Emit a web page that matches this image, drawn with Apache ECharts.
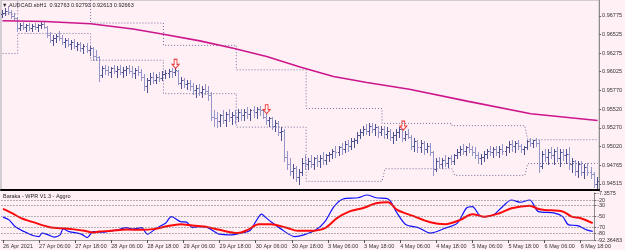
<!DOCTYPE html>
<html>
<head>
<meta charset="utf-8">
<script src="https://cdn.jsdelivr.net/npm/echarts@6/dist/echarts.min.js"></script>
<style>
html, body { margin: 0; padding: 0; background: #fff0f5; }
#chart { width: 625px; height: 250px; }
</style>
</head>
<body>
<div id="chart"></div>
<script>
// AUDCAD H1 bars
var open = [
  .9680,.9682,.9684,.9683,.9678,.9675,.9661,.9665,.9663,.9665, .9661,.9664,.9663,.9665,.9667,.9663,.9652,.9645,.9648,.9651,
  .9648,.9642,.9645,.9640,.9642,.9637,.9640,.9634,.9637,.9632, .9634,.9623,.9622,.9598,.9607,.9605,.9602,.9607,.9603,.9606,
  .9602,.9605,.9607,.9603,.9601,.9605,.9602,.9596,.9583,.9591, .9595,.9592,.9596,.9594,.9599,.9601,.9603,.9602,.9603,.9588,
  .9591,.9586,.9588,.9583,.9578,.9580,.9575,.9579,.9576,.9571, .9542,.9540,.9536,.9544,.9538,.9546,.9541,.9544,.9541,.9548,
  .9544,.9549,.9546,.9551,.9548,.9552,.9551,.9542,.9537,.9540, .9530,.9534,.9521,.9523,.9488,.9478,.9469,.9473,.9461,.9468,
  .9480,.9478,.9483,.9479,.9486,.9482,.9487,.9484,.9490,.9492, .9496,.9494,.9501,.9498,.9505,.9502,.9509,.9511,.9518,.9522,
  .9526,.9523,.9529,.9525,.9528,.9522,.9526,.9519,.9523,.9515, .9518,.9522,.9525,.9513,.9519,.9515,.9503,.9509,.9501,.9506,
  .9498,.9502,.9495,.9472,.9482,.9479,.9484,.9480,.9486,.9483, .9490,.9495,.9499,.9496,.9501,.9498,.9495,.9491,.9486,.9488,
  .9492,.9496,.9494,.9498,.9495,.9499,.9496,.9501,.9505,.9502, .9506,.9503,.9498,.9501,.9509,.9506,.9510,.9507,.9476,.9492,
  .9488,.9495,.9490,.9496,.9487,.9494,.9490,.9492,.9478,.9482, .9469,.9479,.9467,.9475,.9468,.9465,.9452
];
var high = [
  .9686,.9688,.9691,.9686,.9682,.9676,.9668,.9669,.9667,.9668, .9667,.9668,.9667,.9669,.9671,.9664,.9656,.9652,.9653,.9657,
  .9652,.9648,.9648,.9645,.9646,.9642,.9642,.9640,.9641,.9637, .9636,.9632,.9623,.9610,.9611,.9610,.9609,.9611,.9610,.9611,
  .9609,.9610,.9611,.9610,.9607,.9610,.9606,.9599,.9594,.9601, .9602,.9599,.9602,.9603,.9605,.9606,.9607,.9607,.9605,.9595,
  .9594,.9591,.9591,.9588,.9584,.9586,.9583,.9586,.9583,.9575, .9551,.9548,.9546,.9551,.9549,.9552,.9549,.9551,.9552,.9553,
  .9552,.9555,.9553,.9556,.9555,.9556,.9553,.9545,.9542,.9542, .9538,.9536,.9528,.9525,.9496,.9486,.9479,.9476,.9472,.9486,
  .9490,.9487,.9490,.9488,.9491,.9490,.9494,.9492,.9495,.9499, .9502,.9503,.9506,.9509,.9510,.9513,.9514,.9521,.9526,.9530,
  .9532,.9533,.9533,.9532,.9530,.9529,.9530,.9528,.9526,.9522, .9526,.9528,.9526,.9523,.9525,.9517,.9513,.9511,.9510,.9509,
  .9507,.9506,.9496,.9486,.9488,.9487,.9490,.9488,.9491,.9492, .9498,.9502,.9505,.9503,.9506,.9502,.9501,.9495,.9492,.9496,
  .9499,.9502,.9501,.9503,.9502,.9505,.9503,.9509,.9510,.9509, .9511,.9505,.9503,.9511,.9513,.9511,.9514,.9511,.9496,.9499,
  .9498,.9501,.9499,.9501,.9498,.9499,.9498,.9501,.9486,.9484, .9483,.9482,.9479,.9480,.9475,.9467,.9461
];
var low = [
  .9676,.9679,.9680,.9675,.9672,.9657,.9659,.9660,.9657,.9659, .9657,.9660,.9657,.9661,.9661,.9649,.9642,.9638,.9642,.9645,
  .9640,.9636,.9637,.9633,.9634,.9632,.9630,.9628,.9629,.9625, .9618,.9618,.9590,.9595,.9599,.9598,.9596,.9601,.9596,.9599,
  .9595,.9598,.9601,.9596,.9594,.9598,.9592,.9578,.9575,.9586, .9588,.9587,.9590,.9591,.9594,.9595,.9596,.9598,.9586,.9580,
  .9582,.9579,.9578,.9572,.9569,.9571,.9568,.9572,.9565,.9537, .9530,.9528,.9529,.9534,.9530,.9536,.9532,.9534,.9536,.9538,
  .9537,.9540,.9538,.9541,.9540,.9544,.9540,.9532,.9529,.9526, .9523,.9517,.9510,.9483,.9472,.9463,.9459,.9456,.9452,.9464,
  .9472,.9471,.9475,.9472,.9476,.9475,.9479,.9478,.9482,.9486, .9488,.9490,.9492,.9494,.9496,.9499,.9501,.9507,.9514,.9517,
  .9519,.9518,.9521,.9518,.9515,.9517,.9514,.9513,.9510,.9507, .9511,.9515,.9509,.9510,.9513,.9498,.9496,.9495,.9494,.9492,
  .9494,.9491,.9463,.9469,.9475,.9473,.9476,.9475,.9478,.9479, .9486,.9490,.9492,.9491,.9494,.9490,.9487,.9480,.9479,.9482,
  .9487,.9490,.9488,.9491,.9488,.9492,.9490,.9495,.9496,.9494, .9498,.9494,.9492,.9499,.9502,.9501,.9503,.9468,.9473,.9483,
  .9479,.9486,.9478,.9483,.9476,.9484,.9480,.9472,.9467,.9464, .9461,.9463,.9459,.9464,.9460,.9448,.9446
];
var close = [
  .9682,.9684,.9683,.9678,.9675,.9661,.9665,.9663,.9665,.9661, .9664,.9663,.9665,.9667,.9663,.9652,.9645,.9648,.9651,.9648,
  .9642,.9645,.9640,.9642,.9637,.9640,.9634,.9637,.9632,.9634, .9623,.9622,.9598,.9607,.9605,.9602,.9607,.9603,.9606,.9602,
  .9605,.9607,.9603,.9601,.9605,.9602,.9596,.9583,.9591,.9595, .9592,.9596,.9594,.9599,.9601,.9603,.9602,.9605,.9588,.9591,
  .9586,.9588,.9583,.9578,.9580,.9575,.9579,.9576,.9571,.9542, .9540,.9536,.9544,.9538,.9546,.9541,.9544,.9541,.9548,.9544,
  .9549,.9546,.9551,.9548,.9552,.9551,.9542,.9537,.9540,.9530, .9534,.9521,.9523,.9488,.9478,.9469,.9473,.9461,.9468,.9480,
  .9478,.9483,.9479,.9486,.9482,.9487,.9484,.9490,.9492,.9496, .9494,.9501,.9498,.9505,.9502,.9509,.9511,.9518,.9522,.9526,
  .9523,.9529,.9525,.9528,.9522,.9526,.9519,.9523,.9515,.9518, .9522,.9525,.9513,.9519,.9515,.9503,.9509,.9501,.9506,.9498,
  .9502,.9495,.9472,.9482,.9479,.9484,.9480,.9486,.9483,.9490, .9495,.9499,.9496,.9501,.9498,.9495,.9491,.9486,.9488,.9492,
  .9496,.9494,.9498,.9495,.9499,.9496,.9501,.9505,.9502,.9506, .9503,.9498,.9501,.9509,.9506,.9510,.9507,.9476,.9492,.9488,
  .9495,.9490,.9496,.9487,.9494,.9490,.9492,.9478,.9482,.9469, .9479,.9467,.9475,.9468,.9465,.9452,.9456
];

// moving average, read at sample bars [bar, price]
var maPts = [[0,.9671],[14,.9670],[29,.9667],[43,.9660],[53,.9653],[65,.9644],[76,.9634],[87,.9623],
  [98,.9609],[109,.9596],[120,.9588],[134,.9579],[153,.9563],[174,.9546],[196,.9537]];

// dotted stop lines [bar, price]
var upperStop = [[0,.9680],[5,.9680],[5,.9705],[29,.9705],[29,.9668],[53,.9668],[53,.9638],[77,.9638],
  [77,.9605],[100,.9605],[100,.9553],[125,.9553],[125,.9533],[148,.9533],[148,.9530],[172,.9530],[173,.9511],[196,.9511]];
var lowerStop = [[0,.9627],[5,.9627],[5,.9654],[29,.9654],[29,.9618],[53,.9618],[53,.9573],[77,.9573],
  [77,.9528],[100,.9528],[100,.9455],[125,.9455],[126,.9472],[148,.9472],[149,.9463],[172,.9463],[173,.9479],[196,.9479]];

// signal arrows
var arrowBars = [57, 87, 132];
var arrowPrices = [.9613, .9552, .9530];

// WPR sub window
var wprFast = [[0,-51.1],[2,-56],[4,-68.1],[7,-77.1],[10,-84.3],[12,-86.1],[13,-79.9],[15,-83],[17,-87.1],[19,-83],
  [20,-72.2],[22,-77.1],[26,-81.7],[28,-87.9],[30,-77.1],[33,-78.1],[38,-74],[41,-69.9],[43,-72.7],[46,-69.9],
  [48,-81.7],[51,-70.9],[54,-61.9],[56,-50.1],[59,-59.1],[61,-60.1],[63,-69.9],[65,-68.1],[68,-69.9],[72,-81.7],
  [76,-83],[79,-79.9],[82,-75.8],[84,-59.1],[86,-45.7],[87,-50.1],[89,-59.1],[92,-70.9],[97,-86.1],[100,-83],
  [104,-74],[107,-59.1],[110,-32.1],[113,-18.2],[118,-15.9],[121,-11],[124,-15.9],[128,-18.2],[131,-43.9],[134,-65],
  [138,-69.9],[142,-79.9],[147,-70.9],[151,-61.9],[154,-34.9],[156,-32.1],[159,-50.1],[163,-47],[166,-32.1],[169,-20],
  [172,-24.1],[175,-20],[178,-41.1],[183,-43.4],[186,-50.1],[188,-65],[191,-66.3],[194,-74],[196,-76.7]];
var wprSlow = [[0,-36.2],[3,-43.9],[6,-52.9],[10,-60.1],[16,-69.9],[19,-70.9],[23,-72.7],[27,-75.8],[30,-78.9],[32,-77.1],
  [36,-75.8],[41,-73.5],[46,-74],[50,-72.7],[54,-68.1],[59,-63.7],[63,-66.3],[68,-69.1],[72,-74],[78,-79.9],
  [81,-75],[85,-63.7],[89,-63.7],[94,-69.9],[98,-75.8],[102,-75.8],[107,-70.9],[111,-52.9],[115,-41.1],[120,-33.9],
  [124,-25.9],[128,-24.1],[131,-38],[136,-48.3],[142,-60.1],[147,-63.7],[152,-56],[156,-45.7],[160,-50.1],[165,-43.9],
  [169,-34.9],[175,-30.3],[178,-36.2],[180,-38],[186,-40.7],[189,-50.1],[192,-52.9],[196,-61.9]];
var wprLevels = [-20, -30, -50, -70, -80];

// axis labels
var timeLabels = ['26 Apr 2021','27 Apr 06:00','27 Apr 18:00','28 Apr 06:00','28 Apr 18:00','29 Apr 06:00',
  '29 Apr 18:00','30 Apr 06:00','30 Apr 18:00','3 May 06:00','3 May 18:00','4 May 06:00','4 May 18:00',
  '5 May 06:00','5 May 18:00','6 May 06:00','6 May 18:00'];
var priceTicks = [0.94515, 0.94765, 0.95020, 0.95270, 0.95520, 0.95770, 0.96025, 0.96275, 0.96525, 0.96775];
var wprTicks = [-7.3575, -20, -30, -50, -70, -80, -92.36483];

var barUp = '#4d5190', barDown = '#9396c6';
var ohlc = open.map(function (o, i) { return [i, o, high[i], low[i], close[i]]; });
var categories = open.map(function (o, i) { return i % 12 === 0 ? timeLabels[i / 12] : ''; });
var every12 = function (i) { return i % 12 === 0; };
var font = 'Liberation Sans';

var myChart = echarts.init(document.getElementById('chart'));

function renderBar(params, api) {
    var i = api.value(0);
    var pO = api.coord([i, api.value(1)]);
    var x = Math.round(pO[0]) - 1;
    var yo = Math.round(pO[1]);
    var yh = Math.round(api.coord([i, api.value(2)])[1]);
    var yl = Math.round(api.coord([i, api.value(3)])[1]);
    var yc = Math.round(api.coord([i, api.value(4)])[1]);
    var color = api.value(4) >= api.value(1) ? barUp : barDown;
    return {
        type: 'group',
        children: [
            { type: 'rect', shape: { x: x, y: yh, width: 1, height: Math.max(1, yl - yh + 1) }, style: { fill: color } },
            { type: 'rect', shape: { x: x - 1, y: yo, width: 1, height: 1 }, style: { fill: color } },
            { type: 'rect', shape: { x: x + 1, y: yc, width: 1, height: 1 }, style: { fill: color } }
        ]
    };
}

var option = {
    animation: false,
    backgroundColor: '#fff0f5',
    textStyle: { fontFamily: font },
    title: [
        { text: '\u25BC AUDCAD.sbH1  0.92763 0.92793 0.92613 0.92663', left: 2, top: 2, padding: 0,
          textStyle: { fontSize: 5.5, fontWeight: 'normal', color: '#222', fontFamily: font } },
        { text: 'Baraka - WPR V1.3 - Aggro', left: 3, top: 193, padding: 0,
          textStyle: { fontSize: 5.5, fontWeight: 'normal', color: '#222', fontFamily: font } }
    ],
    grid: [
        { left: 1, top: 0, width: 599, height: 190, show: true, borderColor: '#a8a8b0', borderWidth: 1 },
        { left: 1, top: 193, width: 599, height: 47 }
    ],
    xAxis: [
        { type: 'category', gridIndex: 0, data: categories, boundaryGap: true,
          axisLine: { show: true, lineStyle: { color: '#000', width: 2 } },
          axisTick: { show: false }, axisLabel: { show: false }, splitLine: { show: false } },
        { type: 'category', gridIndex: 1, data: categories, boundaryGap: true,
          axisLine: { show: true, lineStyle: { color: '#9a9aa0' } },
          axisTick: { show: true, alignWithLabel: true, interval: every12, length: 3, lineStyle: { color: '#555' } },
          axisLabel: { interval: every12, align: 'left', fontSize: 5.5, color: '#333', margin: 3 },
          splitLine: { show: false } }
    ],
    yAxis: [
        { type: 'value', gridIndex: 0, position: 'right', min: 0.94434, max: 0.96990,
          axisLine: { show: true, lineStyle: { color: '#8c8c8c' } },
          axisTick: { show: true, customValues: priceTicks, length: 2, lineStyle: { color: '#666' } },
          axisLabel: { customValues: priceTicks, formatter: function (v) { return v.toFixed(5); },
                       fontSize: 5.5, color: '#333', margin: 3 },
          splitLine: { show: false } },
        { type: 'value', gridIndex: 1, position: 'right', min: -92.36483, max: -7.3575,
          axisLine: { show: true, lineStyle: { color: '#8c8c8c' } },
          axisTick: { show: true, customValues: wprTicks, length: 2, lineStyle: { color: '#666' } },
          axisLabel: { customValues: wprTicks, formatter: function (v) { return String(v); },
                       fontSize: 5.5, color: '#333', margin: 3 },
          splitLine: { show: false } }
    ],
    series: [
        { type: 'line', xAxisIndex: 0, yAxisIndex: 0, data: upperStop, showSymbol: false, silent: true,
          lineStyle: { color: '#7070a0', width: 1, type: [1, 2] } },
        { type: 'line', xAxisIndex: 0, yAxisIndex: 0, data: lowerStop, showSymbol: false, silent: true,
          lineStyle: { color: '#7070a0', width: 1, type: [1, 2] } },
        { type: 'line', xAxisIndex: 0, yAxisIndex: 0, data: maPts, showSymbol: false, silent: true, smooth: false,
          lineStyle: { color: '#cc168c', width: 1.6 } },
        { type: 'custom', xAxisIndex: 0, yAxisIndex: 0, data: ohlc, renderItem: renderBar, clip: true,
          encode: { x: 0, y: [1, 2, 3, 4] }, silent: true },
        { type: 'scatter', xAxisIndex: 0, yAxisIndex: 0, silent: true,
          data: arrowBars.map(function (b, i) { return [b, arrowPrices[i]]; }),
          symbol: 'path://M3,0 L7,0 L7,6 L10,6 L5,11 L0,6 L3,6 Z', symbolSize: [7, 9],
          itemStyle: { color: '#fff6f8', borderColor: '#e81010', borderWidth: 1 } },
        { type: 'line', xAxisIndex: 1, yAxisIndex: 1, data: wprFast, showSymbol: false, silent: true, smooth: 0.3,
          lineStyle: { color: '#1010ff', width: 1.2 },
          markLine: { silent: true, symbol: 'none', label: { show: false },
                      lineStyle: { color: '#6a6a6a', width: 1, type: [1, 2] },
                      data: wprLevels.map(function (v) { return { yAxis: v }; }) } },
        { type: 'line', xAxisIndex: 1, yAxisIndex: 1, data: wprSlow, showSymbol: false, silent: true, smooth: 0.3,
          lineStyle: { color: '#ff0a0a', width: 2 } }
    ]
};
myChart.setOption(option);
</script>
</body>
</html>
